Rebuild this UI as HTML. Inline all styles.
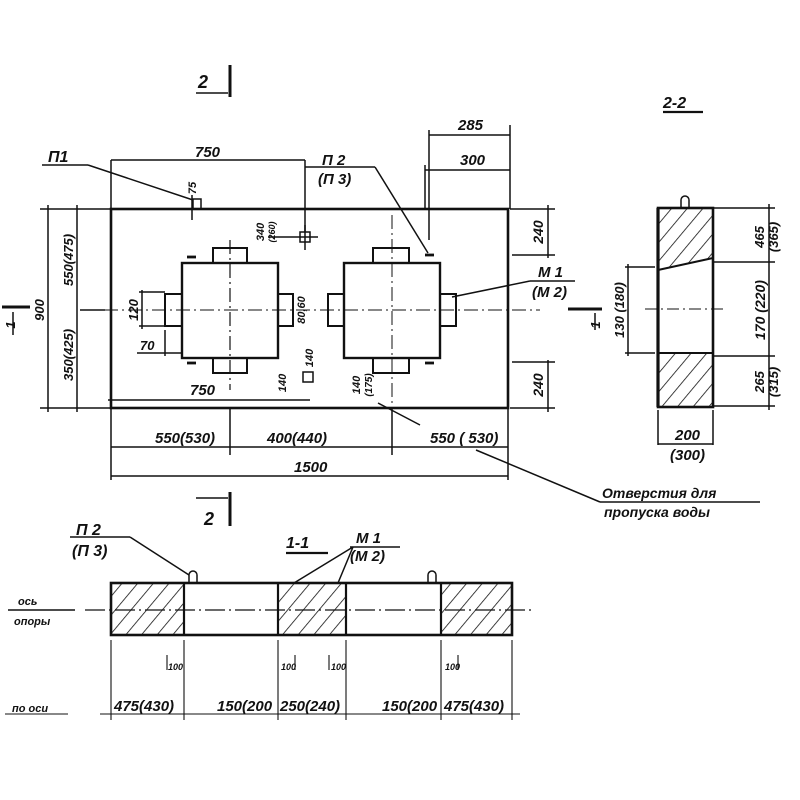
<!DOCTYPE html>
<html><head><meta charset="utf-8"><style>
html,body{margin:0;padding:0;background:#fff}
svg{display:block}
text{font-family:"Liberation Sans",sans-serif;font-style:italic;fill:#111;font-weight:bold}
</style></head><body>
<svg width="800" height="800" viewBox="0 0 800 800" xmlns="http://www.w3.org/2000/svg">
<defs>
<pattern id="h" patternUnits="userSpaceOnUse" width="12" height="12" patternTransform="rotate(40)">
<line x1="0" y1="0" x2="0" y2="12" stroke="#111" stroke-width="1.6"/>
</pattern>
</defs>
<g stroke="#111" fill="none" stroke-width="1.5">
<line x1="230" y1="65" x2="230" y2="97" stroke-width="3"/>
<line x1="196" y1="93" x2="228" y2="93"/>
<line x1="230" y1="492" x2="230" y2="526" stroke-width="3"/>
<line x1="196" y1="498" x2="228" y2="498"/>
<rect x="111" y="209" width="397" height="199" stroke-width="2.6"/>
<line x1="80" y1="310" x2="540" y2="310" stroke-dasharray="14,4,2,4" stroke-width="1"/>
<line x1="230" y1="240" x2="230" y2="390" stroke-dasharray="14,4,2,4" stroke-width="1.2"/>
<line x1="392" y1="215" x2="392" y2="430" stroke-dasharray="14,4,2,4" stroke-width="1"/>
<rect x="182" y="263" width="96" height="95" stroke-width="2.4"/>
<rect x="213" y="248" width="34" height="15" stroke-width="2"/>
<rect x="213" y="358" width="34" height="15" stroke-width="2"/>
<rect x="165" y="294" width="17" height="32" stroke-width="2"/>
<rect x="278" y="294" width="15" height="32" stroke-width="2"/>
<rect x="344" y="263" width="96" height="95" stroke-width="2.4"/>
<rect x="373" y="248" width="36" height="15" stroke-width="2"/>
<rect x="373" y="358" width="36" height="15" stroke-width="2"/>
<rect x="328" y="294" width="16" height="32" stroke-width="2"/>
<rect x="440" y="294" width="16" height="32" stroke-width="2"/>
<g stroke-width="2.8"><line x1="187" y1="257" x2="196" y2="257"/><line x1="187" y1="363" x2="196" y2="363"/><line x1="425" y1="255" x2="434" y2="255"/><line x1="425" y1="363" x2="434" y2="363"/></g>
<rect x="300" y="232" width="10" height="10"/>
<line x1="305" y1="225" x2="305" y2="250"/><line x1="268" y1="237" x2="318" y2="237"/>
<rect x="303" y="372" width="10" height="10"/>
<rect x="193" y="199" width="8" height="10"/>
<line x1="192" y1="195" x2="192" y2="220"/>
<line x1="111" y1="160" x2="111" y2="209"/><line x1="305" y1="160" x2="305" y2="232"/>
<line x1="111" y1="160" x2="305" y2="160"/>
<line x1="108" y1="400" x2="310" y2="400"/>
<line x1="42" y1="165" x2="88" y2="165"/><line x1="88" y1="165" x2="193" y2="200"/>
<line x1="305" y1="167" x2="375" y2="167"/><line x1="375" y1="167" x2="428" y2="253"/>
<line x1="429" y1="135" x2="510" y2="135"/><line x1="425" y1="170" x2="510" y2="170"/>
<line x1="429" y1="130" x2="429" y2="240"/><line x1="425" y1="165" x2="425" y2="209"/>
<line x1="510" y1="125" x2="510" y2="209"/>
<line x1="510" y1="209" x2="555" y2="209"/><line x1="512" y1="255" x2="555" y2="255"/>
<line x1="548" y1="205" x2="548" y2="258"/>
<line x1="512" y1="362" x2="555" y2="362"/><line x1="510" y1="408" x2="555" y2="408"/>
<line x1="548" y1="360" x2="548" y2="412"/>
<line x1="452" y1="297" x2="530" y2="281"/><line x1="530" y1="281" x2="575" y2="281"/>
<line x1="40" y1="209" x2="111" y2="209"/><line x1="40" y1="408" x2="111" y2="408"/>
<line x1="80" y1="310" x2="105" y2="310"/>
<line x1="48" y1="205" x2="48" y2="412"/><line x1="77" y1="205" x2="77" y2="412"/>
<line x1="2" y1="307" x2="30" y2="307" stroke-width="3"/>
<line x1="13" y1="312" x2="13" y2="335"/>
<line x1="139" y1="292" x2="165" y2="292"/><line x1="139" y1="326" x2="165" y2="326"/><line x1="142" y1="290" x2="142" y2="329"/>
<line x1="137" y1="353" x2="182" y2="353"/><line x1="165" y1="330" x2="165" y2="356"/>
<line x1="111" y1="408" x2="111" y2="480"/><line x1="508" y1="408" x2="508" y2="480"/>
<line x1="230" y1="408" x2="230" y2="455"/><line x1="392" y1="408" x2="392" y2="455"/>
<line x1="111" y1="447" x2="508" y2="447"/><line x1="111" y1="476" x2="508" y2="476"/>
<line x1="378" y1="403" x2="420" y2="425"/>
<line x1="476" y1="450" x2="600" y2="502"/><line x1="600" y1="502" x2="760" y2="502"/>
<rect x="658" y="208" width="55" height="199" stroke-width="2.6"/>
<polygon points="658,208 713,208 713,258 658,270 658,208" fill="url(#h)" stroke="none"/>
<polygon points="658,353 713,353 713,407 658,407" fill="url(#h)" stroke="none"/>
<line x1="658" y1="270" x2="713" y2="258" stroke-width="2"/>
<line x1="658" y1="353" x2="713" y2="353" stroke-width="2"/>
<line x1="658" y1="208" x2="658" y2="407" stroke-width="3.2"/>
<path d="M681,208 v-8 a4,4 0 0 1 8,0 v8"/>
<line x1="713" y1="208" x2="775" y2="208"/><line x1="713" y1="262" x2="775" y2="262"/>
<line x1="713" y1="356" x2="775" y2="356"/><line x1="713" y1="406" x2="775" y2="406"/>
<line x1="769" y1="204" x2="769" y2="410"/>
<line x1="625" y1="267" x2="655" y2="267"/><line x1="625" y1="353" x2="655" y2="353"/>
<line x1="628" y1="264" x2="628" y2="356"/>
<line x1="645" y1="309" x2="725" y2="309" stroke-dasharray="12,4,2,4" stroke-width="1"/>
<line x1="568" y1="309" x2="602" y2="309" stroke-width="3"/>
<line x1="595" y1="313" x2="595" y2="330"/>
<line x1="658" y1="410" x2="658" y2="445"/><line x1="713" y1="410" x2="713" y2="445"/>
<line x1="658" y1="444" x2="713" y2="444"/>
<line x1="663" y1="112" x2="703" y2="112" stroke-width="2.2"/>
<rect x="111" y="583" width="73" height="52" fill="url(#h)" stroke="none"/>
<rect x="278" y="583" width="68" height="52" fill="url(#h)" stroke="none"/>
<rect x="441" y="583" width="71" height="52" fill="url(#h)" stroke="none"/>
<rect x="111" y="583" width="401" height="52" stroke-width="2.6"/>
<line x1="184" y1="583" x2="184" y2="635" stroke-width="2.2"/>
<line x1="278" y1="583" x2="278" y2="635" stroke-width="2.2"/>
<line x1="346" y1="583" x2="346" y2="635" stroke-width="2.2"/>
<line x1="441" y1="583" x2="441" y2="635" stroke-width="2.2"/>
<line x1="85" y1="610" x2="535" y2="610" stroke-dasharray="20,4,2,4" stroke-width="1.3"/>
<line x1="8" y1="610" x2="75" y2="610"/>
<path d="M189,583 v-8 a4,4 0 0 1 8,0 v8"/><path d="M428,583 v-8 a4,4 0 0 1 8,0 v8"/>
<line x1="70" y1="537" x2="130" y2="537"/><line x1="130" y1="537" x2="189" y2="575"/>
<line x1="350" y1="547" x2="400" y2="547"/><line x1="353" y1="547" x2="294" y2="583"/><line x1="353" y1="547" x2="338" y2="583"/>
<line x1="286" y1="553" x2="328" y2="553" stroke-width="2.2"/>
<g stroke-width="1.1"><line x1="111" y1="640" x2="111" y2="720"/><line x1="184" y1="640" x2="184" y2="720"/><line x1="278" y1="640" x2="278" y2="720"/><line x1="346" y1="640" x2="346" y2="720"/><line x1="441" y1="640" x2="441" y2="720"/><line x1="512" y1="640" x2="512" y2="720"/>
<line x1="167" y1="655" x2="167" y2="670"/><line x1="295" y1="655" x2="295" y2="670"/><line x1="329" y1="655" x2="329" y2="670"/><line x1="458" y1="655" x2="458" y2="670"/>
<line x1="100" y1="714" x2="520" y2="714"/><line x1="5" y1="714" x2="68" y2="714"/></g>
</g>
<g font-size="15">
<text x="198" y="88" font-size="18" font-style="normal">2</text>
<text x="204" y="525" font-size="18" font-style="normal">2</text>
<text x="48" y="162" font-size="16">П1</text>
<text x="195" y="157">750</text>
<text x="190" y="395">750</text>
<text x="322" y="165">П 2</text>
<text x="318" y="184">(П 3)</text>
<text x="458" y="130">285</text>
<text x="460" y="165">300</text>
<text x="538" y="277">М 1</text>
<text x="532" y="297">(М 2)</text>
<text x="663" y="108" font-size="16">2-2</text>
<text x="675" y="440">200</text>
<text x="670" y="460">(300)</text>
<text x="155" y="443">550(530)</text>
<text x="267" y="443">400(440)</text>
<text x="430" y="443">550 ( 530)</text>
<text x="294" y="472">1500</text>
<text x="602" y="498" font-size="14">Отверстия  для</text>
<text x="604" y="517" font-size="14">пропуска  воды</text>
<text x="140" y="350" font-size="13">70</text>
<text x="76" y="535" font-size="16">П 2</text>
<text x="72" y="556" font-size="16">(П 3)</text>
<text x="286" y="548" font-size="16">1-1</text>
<text x="356" y="543" font-size="15">М 1</text>
<text x="350" y="561" font-size="15">(М 2)</text>
<text x="18" y="605" font-size="11">ось</text>
<text x="14" y="625" font-size="11">опоры</text>
<text x="12" y="712" font-size="11">по  оси</text>
<text x="114" y="711">475(430)</text>
<text x="217" y="711">150(200</text>
<text x="280" y="711">250(240)</text>
<text x="382" y="711">150(200</text>
<text x="444" y="711">475(430)</text>
</g>
<g font-size="13">
<text transform="translate(44,310) rotate(-90)" text-anchor="middle">900</text>
<text transform="translate(73,260) rotate(-90)" text-anchor="middle">550(475)</text>
<text transform="translate(73,355) rotate(-90)" text-anchor="middle">350(425)</text>
<text transform="translate(138,310) rotate(-90)" text-anchor="middle">120</text>
<text transform="translate(305,310) rotate(-90)" text-anchor="middle" font-size="11">80,60</text>
<text transform="translate(264,232) rotate(-90)" text-anchor="middle" font-size="11">340</text>
<text transform="translate(275,232) rotate(-90)" text-anchor="middle" font-size="9">(260)</text>
<text transform="translate(196,188) rotate(-90)" text-anchor="middle" font-size="11">75</text>
<text transform="translate(313,358) rotate(-90)" text-anchor="middle" font-size="11">140</text>
<text transform="translate(286,383) rotate(-90)" text-anchor="middle" font-size="11">140</text>
<text transform="translate(360,385) rotate(-90)" text-anchor="middle" font-size="11">140</text>
<text transform="translate(372,385) rotate(-90)" text-anchor="middle" font-size="10">(175)</text>
<text transform="translate(543,232) rotate(-90)" text-anchor="middle" font-size="14">240</text>
<text transform="translate(543,385) rotate(-90)" text-anchor="middle" font-size="14">240</text>
<text transform="translate(624,310) rotate(-90)" text-anchor="middle">130 (180)</text>
<text transform="translate(765,310) rotate(-90)" text-anchor="middle" font-size="14">170 (220)</text>
<text transform="translate(764,237) rotate(-90)" text-anchor="middle">465</text>
<text transform="translate(778,237) rotate(-90)" text-anchor="middle">(365)</text>
<text transform="translate(764,382) rotate(-90)" text-anchor="middle">265</text>
<text transform="translate(778,382) rotate(-90)" text-anchor="middle">(315)</text>
<text transform="translate(15,325) rotate(-90)" text-anchor="middle" font-size="13" font-style="normal">1</text>
<text transform="translate(600,325) rotate(-90)" text-anchor="middle" font-size="13" font-style="normal">1</text>
<text x="168" y="670" font-size="9">100</text>
<text x="281" y="670" font-size="9">100</text>
<text x="331" y="670" font-size="9">100</text>
<text x="445" y="670" font-size="9">100</text>
</g>
</svg>
</body></html>
